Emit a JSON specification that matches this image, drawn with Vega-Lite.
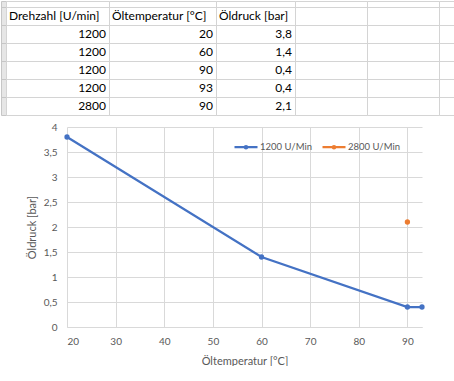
{
  "$schema": "https://vega.github.io/schema/vega-lite/v6.json",
  "padding": 0,
  "background": "white",
  "spacing": 6,
  "resolve": {"scale": {"color": "independent"}, "legend": {"color": "independent"}},
  "config": {
    "font": "Lato",
    "view": {"stroke": "#d4d4d4"},
    "text": {"font": "Lato", "fontSize": 12, "color": "#000000"}
  },
  "datasets": {
    "cells": [
      {"col": "A", "row": "h", "text": "Drehzahl [U/min]"},
      {"col": "B", "row": "h", "text": "Öltemperatur [°C]"},
      {"col": "C", "row": "h", "text": "Öldruck [bar]"},
      {"col": "A", "row": "1", "text": "1200"},
      {"col": "B", "row": "1", "text": "20"},
      {"col": "C", "row": "1", "text": "3,8"},
      {"col": "A", "row": "2", "text": "1200"},
      {"col": "B", "row": "2", "text": "60"},
      {"col": "C", "row": "2", "text": "1,4"},
      {"col": "A", "row": "3", "text": "1200"},
      {"col": "B", "row": "3", "text": "90"},
      {"col": "C", "row": "3", "text": "0,4"},
      {"col": "A", "row": "4", "text": "1200"},
      {"col": "B", "row": "4", "text": "93"},
      {"col": "C", "row": "4", "text": "0,4"},
      {"col": "A", "row": "5", "text": "2800"},
      {"col": "B", "row": "5", "text": "90"},
      {"col": "C", "row": "5", "text": "2,1"}
    ],
    "messung": [
      {"serie": "1200 U/Min", "temp": 20, "druck": 3.8},
      {"serie": "1200 U/Min", "temp": 60, "druck": 1.4},
      {"serie": "1200 U/Min", "temp": 90, "druck": 0.4},
      {"serie": "1200 U/Min", "temp": 93, "druck": 0.4},
      {"serie": "2800 U/Min", "temp": 90, "druck": 2.1}
    ]
  },
  "vconcat": [
    {
      "bounds": "flush",
      "spacing": 0,
      "hconcat": [
        {
          "width": 5, "height": 114,
          "view": {"fill": "#e6e6e6", "stroke": "#c6c6c6"},
          "data": {"name": "cells"},
          "transform": [{"filter": "datum.col === 'stub'"}],
          "mark": "text",
          "encoding": {
            "y": {"field": "row", "type": "nominal",
              "scale": {"type": "band", "domain": ["h", "1", "2", "3", "4", "5"], "paddingInner": 0, "paddingOuter": 0.16667, "align": 1},
              "axis": {"grid": true, "gridColor": "#c6c6c6", "bandPosition": 0, "labels": false, "ticks": false, "domain": false, "title": null}},
            "text": {"field": "text"}
          }
        },
        {
          "width": 103, "height": 114,
          "data": {"name": "cells"},
          "transform": [{"filter": "datum.col === 'A'"}],
          "encoding": {
            "y": {"field": "row", "type": "nominal",
              "scale": {"type": "band", "domain": ["h", "1", "2", "3", "4", "5"], "paddingInner": 0, "paddingOuter": 0.16667, "align": 1},
              "axis": {"grid": true, "gridColor": "#d4d4d4", "bandPosition": 0, "labels": false, "ticks": false, "domain": false, "title": null}},
            "text": {"field": "text"}
          },
          "layer": [
            {"transform": [{"filter": "datum.row === 'h'"}], "mark": {"type": "text", "align": "left", "dx": 3}, "encoding": {"x": {"value": 0}}},
            {"transform": [{"filter": "datum.row !== 'h'"}], "mark": {"type": "text", "align": "right", "dx": -3}, "encoding": {"x": {"value": "width"}}}
          ]
        },
        {
          "width": 107, "height": 114,
          "data": {"name": "cells"},
          "transform": [{"filter": "datum.col === 'B'"}],
          "encoding": {
            "y": {"field": "row", "type": "nominal",
              "scale": {"type": "band", "domain": ["h", "1", "2", "3", "4", "5"], "paddingInner": 0, "paddingOuter": 0.16667, "align": 1},
              "axis": {"grid": true, "gridColor": "#d4d4d4", "bandPosition": 0, "labels": false, "ticks": false, "domain": false, "title": null}},
            "text": {"field": "text"}
          },
          "layer": [
            {"transform": [{"filter": "datum.row === 'h'"}], "mark": {"type": "text", "align": "left", "dx": 3}, "encoding": {"x": {"value": 0}}},
            {"transform": [{"filter": "datum.row !== 'h'"}], "mark": {"type": "text", "align": "right", "dx": -3}, "encoding": {"x": {"value": "width"}}}
          ]
        },
        {
          "width": 79, "height": 114,
          "data": {"name": "cells"},
          "transform": [{"filter": "datum.col === 'C'"}],
          "encoding": {
            "y": {"field": "row", "type": "nominal",
              "scale": {"type": "band", "domain": ["h", "1", "2", "3", "4", "5"], "paddingInner": 0, "paddingOuter": 0.16667, "align": 1},
              "axis": {"grid": true, "gridColor": "#d4d4d4", "bandPosition": 0, "labels": false, "ticks": false, "domain": false, "title": null}},
            "text": {"field": "text"}
          },
          "layer": [
            {"transform": [{"filter": "datum.row === 'h'"}], "mark": {"type": "text", "align": "left", "dx": 3}, "encoding": {"x": {"value": 0}}},
            {"transform": [{"filter": "datum.row !== 'h'"}], "mark": {"type": "text", "align": "right", "dx": -3}, "encoding": {"x": {"value": "width"}}}
          ]
        },
        {
          "width": 72, "height": 114,
          "data": {"name": "cells"},
          "transform": [{"filter": "datum.col === 'D'"}],
          "mark": "text",
          "encoding": {
            "y": {"field": "row", "type": "nominal",
              "scale": {"type": "band", "domain": ["h", "1", "2", "3", "4", "5"], "paddingInner": 0, "paddingOuter": 0.16667, "align": 1},
              "axis": {"grid": true, "gridColor": "#d4d4d4", "bandPosition": 0, "labels": false, "ticks": false, "domain": false, "title": null}},
            "text": {"field": "text"}
          }
        },
        {
          "width": 72, "height": 114,
          "data": {"name": "cells"},
          "transform": [{"filter": "datum.col === 'E'"}],
          "mark": "text",
          "encoding": {
            "y": {"field": "row", "type": "nominal",
              "scale": {"type": "band", "domain": ["h", "1", "2", "3", "4", "5"], "paddingInner": 0, "paddingOuter": 0.16667, "align": 1},
              "axis": {"grid": true, "gridColor": "#d4d4d4", "bandPosition": 0, "labels": false, "ticks": false, "domain": false, "title": null}},
            "text": {"field": "text"}
          }
        },
        {
          "width": 16, "height": 114,
          "data": {"name": "cells"},
          "transform": [{"filter": "datum.col === 'F'"}],
          "mark": "text",
          "encoding": {
            "y": {"field": "row", "type": "nominal",
              "scale": {"type": "band", "domain": ["h", "1", "2", "3", "4", "5"], "paddingInner": 0, "paddingOuter": 0.16667, "align": 1},
              "axis": {"grid": true, "gridColor": "#d4d4d4", "bandPosition": 0, "labels": false, "ticks": false, "domain": false, "title": null}},
            "text": {"field": "text"}
          }
        }
      ]
    },
    {
      "bounds": "flush",
      "spacing": 0,
      "resolve": {"scale": {"color": "independent"}, "legend": {"color": "independent"}},
      "hconcat": [
        {
          "width": 66, "height": 200,
          "view": {"stroke": null},
          "data": {"values": []},
          "mark": "text",
          "encoding": {}
        },
        {
          "width": 355, "height": 200,
          "view": {"stroke": null},
          "data": {"name": "messung"},
          "encoding": {
            "x": {"field": "temp", "type": "quantitative",
              "scale": {"domain": [20, 93], "nice": false, "zero": false},
              "axis": {"values": [20, 30, 40, 50, 60, 70, 80, 90], "grid": true, "gridColor": "#d9d9d9", "domainColor": "#d9d9d9", "ticks": false,
                "labelFont": "Lato", "labelFontSize": 10, "labelColor": "#595959", "labelPadding": 9,
                "title": "Öltemperatur [°C]", "titleFont": "Lato", "titleFontSize": 11, "titleFontWeight": "normal", "titleColor": "#595959", "titlePadding": 9}},
            "y": {"field": "druck", "type": "quantitative",
              "scale": {"domain": [0, 4], "nice": false},
              "axis": {"values": [0, 0.5, 1, 1.5, 2, 2.5, 3, 3.5, 4], "labelExpr": "replace(format(datum.value, '~g'), '.', ',')",
                "grid": true, "gridColor": "#d9d9d9", "domain": false, "ticks": false,
                "labelFont": "Lato", "labelFontSize": 10, "labelColor": "#595959", "labelPadding": 10,
                "title": "Öldruck [bar]", "titleFont": "Lato", "titleFontSize": 11, "titleFontWeight": "normal", "titleColor": "#595959", "titlePadding": 6}},
            "color": {"field": "serie", "type": "nominal",
              "scale": {"domain": ["1200 U/Min", "2800 U/Min"], "range": ["#4472C4", "#ED7D31"]},
              "legend": {"orient": "none", "legendX": 166, "legendY": 7, "direction": "horizontal", "title": null,
                "symbolType": "M-1,0H1M-0.1,0A0.1,0.1,0,1,1,0.1,0A0.1,0.1,0,1,1,-0.1,0Z", "symbolSize": 529, "symbolStrokeWidth": 2.25, "symbolOpacity": 1,
                "labelFont": "Lato", "labelFontSize": 9.5, "labelColor": "#595959", "labelOffset": 1, "columnPadding": 6}}
          },
          "layer": [
            {"mark": {"type": "line", "strokeWidth": 2.25}},
            {"mark": {"type": "point", "filled": true, "size": 28, "opacity": 1}}
          ]
        }
      ]
    }
  ]
}
